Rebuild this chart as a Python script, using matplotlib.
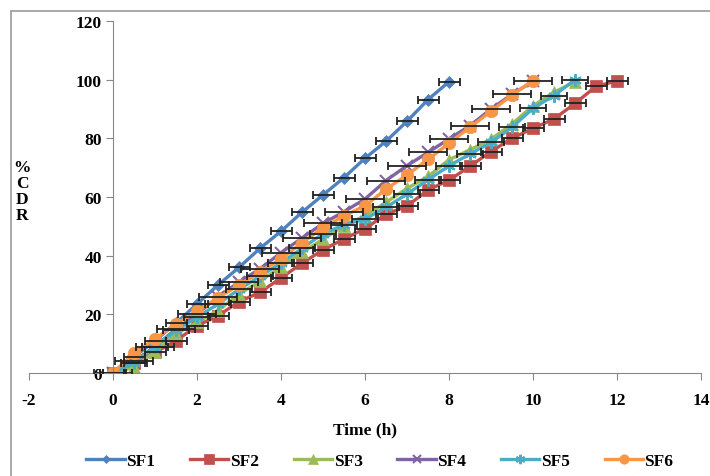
import matplotlib
matplotlib.use('Agg')
import matplotlib.pyplot as plt
from matplotlib.patches import Rectangle
import numpy as np

sf1 = [0, 5.5, 11.0, 17.0, 23.5, 30.0, 36.0, 42.5, 48.3, 54.8, 60.7, 66.6, 73.2,
       79.0, 85.8, 93.2, 99.3]
sf2 = [0, 3.5, 7.0, 11.0, 16.1, 19.5, 24.3, 27.5, 32.4, 37.4, 42.0, 45.7, 49.2,
       54.1, 56.9, 62.4, 65.7, 70.5, 75.5, 80.0, 83.4, 86.6, 91.9, 97.7, 99.6]
sf3 = [0, 1.9, 7.3, 13.3, 17.3, 21.3, 26.9, 31.3, 36.2, 41.1, 45.6, 50.2, 53.6,
       58.2, 62.9, 67.0, 72.7, 76.1, 79.7, 84.9, 91.1, 95.7, 99.3]
sf4 = [0, 4.0, 9.0, 15.0, 20.0, 26.0, 31.0, 35.5, 41.0, 46.0, 51.0, 55.0, 59.3,
       65.6, 70.7, 75.2, 79.8, 84.3, 90.0, 95.0, 99.4]
sf5 = [0, 3.5, 9.0, 14.5, 19.0, 23.5, 28.5, 33.0, 37.5, 42.5, 47.5, 50.5, 52.5,
       56.5, 61.0, 65.9, 70.6, 74.7, 78.6, 83.8, 90.2, 94.6, 100.0]
sf6 = [0, 6.8, 11.6, 16.8, 21.0, 25.6, 30.0, 34.4, 38.9, 44.4, 49.5, 53.6, 57.0,
       62.7, 67.5, 72.8, 78.3, 83.8, 89.2, 94.8, 99.7]

names = ['SF1', 'SF2', 'SF3', 'SF4', 'SF5', 'SF6']
series = [sf1, sf2, sf3, sf4, sf5, sf6]
time_err = [0.25, 0.25, 0, 0.45, 0.3, 0]  # horizontal error bars (h)

colors = ['#4F81BD', '#C0504D', '#9BBB59', '#8064A2', '#4BACC6', '#F79646']
markers = ['D', 's', '^', 'x', (6, 2, 0), 'o']
msizes = [6, 9, 9, 8, 9, 9]

plt.rcParams['font.family'] = 'Liberation Serif'
plt.rcParams['font.weight'] = 'bold'
plt.rcParams['axes.unicode_minus'] = False

fig = plt.figure(figsize=(7.1, 4.77), dpi=100, facecolor='white')
ax = fig.add_axes([29/710, 103/477, 672/710, 352/477])

for name, vals, err, c, m, ms in zip(names, series, time_err, colors, markers, msizes):
    t = np.arange(len(vals)) * 0.5
    ax.plot(t, vals, color=c, marker=m, markersize=ms, linewidth=2.4,
            markeredgewidth=1.5 if m == 'x' or isinstance(m, tuple) else 0.5,
            markeredgecolor=c, label=name, zorder=2)
    if err > 0:
        ax.errorbar(t, vals, xerr=err, fmt='none', ecolor='#222222', elinewidth=1.3,
                    capsize=3, capthick=1.3, zorder=3)

ax.set_xlim(-2, 14)
ax.set_ylim(0, 120)
ax.set_xticks(np.arange(-2, 15, 2))
ax.set_yticks(np.arange(0, 121, 20))
ax.spines['left'].set_position(('data', 0))
ax.spines['top'].set_visible(False)
ax.spines['right'].set_visible(False)
for s in ('left', 'bottom'):
    ax.spines[s].set_color('#888888')
ax.tick_params(axis='both', direction='out', length=5, color='#888888',
               labelsize=12.5)
ax.tick_params(axis='x', pad=9)
ax.tick_params(axis='y', pad=3)
for lab in ax.get_xticklabels() + ax.get_yticklabels():
    lab.set_fontweight('bold')

ax.set_xlabel('Time (h)', fontsize=12.5, fontweight='bold', labelpad=9)
fig.text(22/710, 1 - 192/477, '%\nC\nD\nR', ha='center', va='center',
         fontsize=12.5, fontweight='bold', linespacing=1.0)

ax.legend(loc='center', bbox_to_anchor=(380/710, 15/477), bbox_transform=fig.transFigure,
          ncol=6, frameon=False, fontsize=12.5, handlelength=2.2, columnspacing=2.0,
          handletextpad=0.1, markerscale=0.75)

fig.patches.append(Rectangle((11/710, -0.1), 1.2, 1 - 12/477 + 0.1,
                             transform=fig.transFigure, fill=False,
                             edgecolor='#999999', linewidth=1.2))

fig.savefig('out.png', dpi=100)
